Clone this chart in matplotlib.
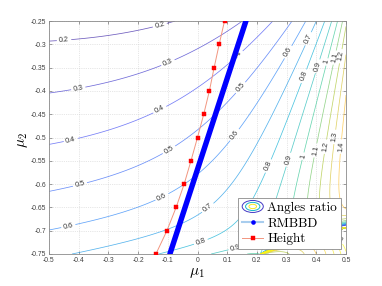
import numpy as np
import matplotlib
matplotlib.use('Agg')
import matplotlib.pyplot as plt
from matplotlib.colors import LinearSegmentedColormap
from matplotlib.lines import Line2D
from matplotlib.patches import Ellipse
from matplotlib.legend_handler import HandlerBase
from matplotlib.font_manager import FontProperties

plt.rcParams['mathtext.fontset'] = 'cm'

# ---------------- data ----------------
# contour points (level -> list of (mu1, mu2)) read off the "Angles ratio" contours
angles_ratio_points = {
    0.2: [(-0.5, -0.268), (-0.45, -0.285), (-0.306, -0.30), (-0.12, -0.276), (-0.031, -0.25)],
    0.3: [(-0.5, -0.379), (-0.40, -0.40), (-0.328, -0.405), (-0.082, -0.366), (0.109, -0.276), (0.13, -0.25)],
    0.4: [(-0.5, -0.482), (-0.43, -0.495), (-0.34, -0.50), (-0.11, -0.462), (-0.025, -0.428),
          (0.109, -0.372), (0.15, -0.336), (0.233, -0.25)],
    0.5: [(-0.5, -0.577), (-0.35, -0.59), (-0.086, -0.537), (0.154, -0.398), (0.302, -0.25)],
    0.6: [(-0.5, -0.668), (-0.384, -0.677), (-0.116, -0.632), (0.126, -0.495), (0.311, -0.319), (0.362, -0.25)],
    0.7: [(-0.289, -0.75), (0.019, -0.638), (0.372, -0.286), (0.407, -0.25)],
    0.8: [(-0.049, -0.75), (0.008, -0.718), (0.216, -0.555), (0.365, -0.37), (0.433, -0.25)],
    0.9: [(0.069, -0.75), (0.12, -0.716), (0.288, -0.544), (0.409, -0.348), (0.452, -0.25)],
    1.0: [(0.166, -0.75), (0.342, -0.538), (0.436, -0.338), (0.471, -0.25)],
    1.1: [(0.215, -0.75), (0.392, -0.527), (0.466, -0.329), (0.486, -0.25)],
    1.2: [(0.295, -0.75), (0.433, -0.52), (0.497, -0.25)],
    1.3: [(0.345, -0.75), (0.466, -0.499)],
    1.4: [(0.388, -0.75), (0.493, -0.52)],
    1.5: [(0.435, -0.75)],
    1.6: [(0.469, -0.75)],
}
contour_levels = [0.2, 0.3, 0.4, 0.5, 0.6, 0.7, 0.8, 0.9, 1.0, 1.1, 1.2, 1.3, 1.4, 1.5, 1.6, 1.7, 1.8]

# positions of the inline contour labels
label_positions = [(-0.45, -0.285), (-0.12, -0.276),
                   (-0.40, -0.40), (-0.082, -0.366),
                   (-0.43, -0.495), (-0.11, -0.462), (0.15, -0.336),
                   (-0.40, -0.59), (-0.086, -0.537), (0.154, -0.398),
                   (-0.44, -0.675), (-0.116, -0.632), (0.126, -0.495), (0.311, -0.319),
                   (0.019, -0.638), (0.376, -0.289),
                   (0.008, -0.718), (0.216, -0.555), (0.365, -0.37),
                   (0.12, -0.716), (0.288, -0.544), (0.409, -0.348),
                   (0.342, -0.538), (0.436, -0.338),
                   (0.392, -0.527), (0.466, -0.329),
                   (0.433, -0.52), (0.486, -0.326),
                   (0.466, -0.499), (0.493, -0.52), (0.478, -0.71)]

height_mu2 = [-0.75, -0.70, -0.65, -0.60, -0.55, -0.50, -0.45, -0.40, -0.35, -0.30, -0.25]
height_mu1 = [-0.14, -0.103, -0.072, -0.045, -0.022, 0.0, 0.021, 0.04, 0.056, 0.073, 0.091]

rmbbd_mu2 = [-0.75, -0.25]
rmbbd_mu1 = [-0.093, 0.163]

xtick_vals = [-0.5, -0.4, -0.3, -0.2, -0.1, 0.0, 0.1, 0.2, 0.3, 0.4, 0.5]
xtick_labels = ['-0.5', '-0.4', '-0.3', '-0.2', '-0.1', '0', '0.1', '0.2', '0.3', '0.4', '0.5']
ytick_vals = [-0.75, -0.7, -0.65, -0.6, -0.55, -0.5, -0.45, -0.4, -0.35, -0.3, -0.25]
ytick_labels = ['-0.75', '-0.7', '-0.65', '-0.6', '-0.55', '-0.5', '-0.45', '-0.4', '-0.35', '-0.3', '-0.25']

legend_labels = ['Angles ratio', 'RMBBD', 'Height']

# ---------------- smooth surface through the read contour points ----------------
L = []; X = []; Y = []
for lv, ps in angles_ratio_points.items():
    for x, y in ps:
        L.append(lv); X.append(x); Y.append(y)
L = np.array(L); X = np.array(X); Y = np.array(Y)


def mono(x, y, deg):
    cols = []
    for i in range(deg + 1):
        for j in range(deg + 1 - i):
            cols.append(x ** i * y ** j)
    return np.stack(cols, -1)


ND, DD = 2, 2
Nm = mono(X, Y, ND)
Dm = mono(X, Y, DD)[:, 1:]
w = np.ones_like(L)
for _ in range(12):
    A = np.hstack([Nm, -L[:, None] * Dm]) * w[:, None]
    p, *_ = np.linalg.lstsq(A, L * w, rcond=None)
    na = p[:Nm.shape[1]]; dc = p[Nm.shape[1]:]
    w = 1 / np.abs(1 + Dm @ dc)

gx = np.linspace(-0.5, 0.5, 301)
gy = np.linspace(-0.75, -0.25, 301)
GX, GY = np.meshgrid(gx, gy)
Z = (mono(GX, GY, ND) @ na) / (1 + mono(GX, GY, DD)[..., 1:] @ dc)

# ---------------- parula-like colormap ----------------
parula_anchors = [
    (0.000, (0.2422, 0.1504, 0.6603)),
    (0.125, (0.2810, 0.3228, 0.9579)),
    (0.250, (0.1786, 0.5289, 0.9682)),
    (0.375, (0.0689, 0.6948, 0.8394)),
    (0.500, (0.2161, 0.7843, 0.5923)),
    (0.625, (0.6720, 0.7793, 0.2227)),
    (0.750, (0.9970, 0.7659, 0.2199)),
    (0.875, (0.9598, 0.8987, 0.1511)),
    (1.000, (0.9769, 0.9839, 0.0805)),
]
parula = LinearSegmentedColormap.from_list('parula', parula_anchors)

# ---------------- figure ----------------
fig = plt.figure(figsize=(3.82, 2.86), dpi=100)
ax = fig.add_axes([49 / 382, 1 - 254 / 286, 297 / 382, 233 / 286])
ax.set_axisbelow(True)
ax.grid(True, ls=':', color='#cfcfcf', lw=0.5)

cs = ax.contour(GX, GY, Z, levels=contour_levels, cmap=parula, vmin=0.2, vmax=1.8,
                linewidths=0.55, alpha=0.75, zorder=2)
lbls = ax.clabel(cs, manual=label_positions, fmt='%g', fontsize=5.2, inline=True,
                 inline_spacing=1.5, colors='#333333')
for t in lbls:
    t.set_fontfamily('Liberation Sans')
    t.set_alpha(1)

ax.plot(height_mu1, height_mu2, color='#f2957f', lw=0.7, marker='s', ms=2.4, mew=0.3,
        mfc='red', mec='red', zorder=3)
ax.plot(rmbbd_mu1, rmbbd_mu2, color='blue', lw=3.9, solid_capstyle='round', zorder=4)

ax.set_xlim(-0.5, 0.5)
ax.set_ylim(-0.75, -0.25)
tick_font = FontProperties(family='Liberation Sans', size=4.9)
ax.set_xticks(xtick_vals)
ax.set_xticklabels(xtick_labels, fontproperties=tick_font, color='#404040')
ax.set_yticks(ytick_vals)
ax.set_yticklabels(ytick_labels, fontproperties=tick_font, color='#404040')
ax.tick_params(direction='in', length=2, width=0.5, color='#777777', top=True, right=True, pad=2)
for s in ax.spines.values():
    s.set_color('#8a8a8a')
    s.set_linewidth(0.6)

fig.text(197 / 382, 1 - 272 / 286, r'$\mu_1$', fontsize=11, ha='center', va='center')
fig.text(23 / 382, 1 - 140 / 286, r'$\mu_2$', fontsize=11, ha='center', va='center', rotation=90)


class ContourIcon:
    pass


class HandlerContourIcon(HandlerBase):
    def create_artists(self, legend, orig_handle, xdescent, ydescent, width, height, fontsize, trans):
        cx = width / 2 - xdescent
        cy = height / 2 - ydescent
        arts = []
        for frac, col in [(1.0, parula(0.05)), (0.68, parula(0.4)), (0.36, parula(0.9))]:
            arts.append(Ellipse((cx, cy), width * frac, height * 1.3 * frac, fill=False,
                                edgecolor=col, lw=0.7, transform=trans))
        return arts


h_contour = ContourIcon()
h_rmbbd = Line2D([], [], color='#a8cdee', lw=1.5, marker='o', ms=3.3, mew=0, mfc='blue')
h_height = Line2D([], [], color='#f2957f', lw=0.7, marker='s', ms=2.4, mew=0.3, mfc='red', mec='red')
leg = ax.legend([h_contour, h_rmbbd, h_height], legend_labels,
                handler_map={ContourIcon: HandlerContourIcon()},
                loc='lower right', bbox_to_anchor=(0.983, 0.021), borderaxespad=0,
                prop=FontProperties(family='cmr10', size=9.5), frameon=True, fancybox=False,
                framealpha=1, edgecolor='#8a8a8a', borderpad=0.3, labelspacing=0.25,
                handlelength=1.6, handletextpad=0.3)
leg.get_frame().set_linewidth(0.6)
leg.set_zorder(10)

fig.savefig('out.png', dpi=100)
